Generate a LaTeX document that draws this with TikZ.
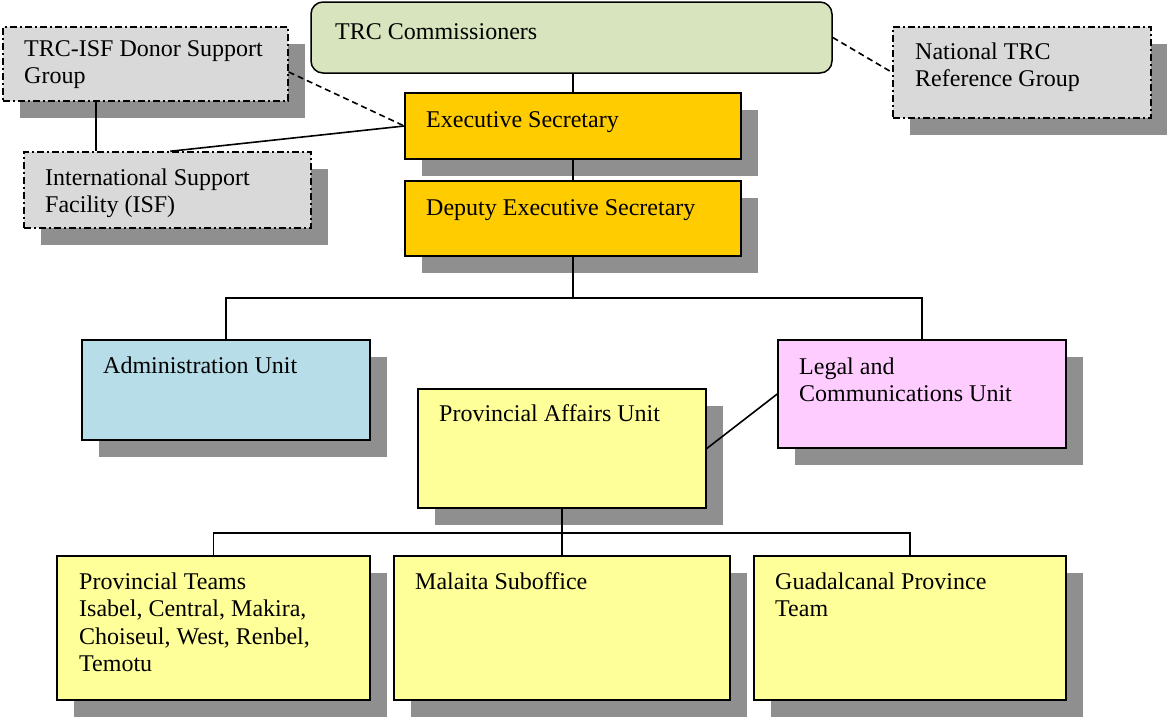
\documentclass[tikz,border=0pt]{standalone}
\usepackage{fontspec}
\setmainfont{Liberation Serif}
\usetikzlibrary{fit,calc}
\definecolor{cgreen}{HTML}{D7E4BD}
\definecolor{corange}{HTML}{FFCC00}
\definecolor{cgrey}{HTML}{D9D9D9}
\definecolor{cblue}{HTML}{B7DDE8}
\definecolor{cpink}{HTML}{FFCCFF}
\definecolor{cyellow}{HTML}{FFFF99}
\definecolor{cshadow}{HTML}{8F8F8F}
\tikzset{
  boxline/.style={draw=black, line width=1.5pt},
  dashdot/.style={dash pattern=on 7pt off 3pt on 2pt off 3pt},
  conn/.style={draw=black, line width=1.6pt},
  dconn/.style={conn, dash pattern=on 6pt off 4pt},
  txt/.style={anchor=base west, inner sep=0pt, align=left, font=\fontsize{24}{27.6}\selectfont},
  shadowfill/.style={fill=cshadow}
}
\newcommand\mybox[5]{%
  \coordinate (#1-nw) at #2;
  \coordinate (#1-se) at #3;
  \ifx#5s\fill[shadowfill] ([shift={(17,17)}]#1-nw) rectangle ([shift={(17,17)}]#1-se);\fi
  \node[fit=(#1-nw)(#1-se), inner sep=0pt, boxline, #4] (#1) {};
}
\begin{document}
\begin{tikzpicture}[x=1pt,y=-1pt]
\useasboundingbox (0,0) rectangle (1167,716);
% boxes
\mybox{donor}{(3,27)}{(288,101)}{fill=cgrey, dashdot}{s}
\mybox{isf}{(24,152)}{(311,228)}{fill=cgrey, dashdot}{s}
\node[fit={(311,2) (832,73)}, inner sep=0pt, boxline, fill=cgreen, rounded corners=12pt] (comm) {};
\mybox{natl}{(893,27)}{(1151,118)}{fill=cgrey, dashdot}{s}
\mybox{exec}{(405,93)}{(741,159)}{fill=corange}{s}
\mybox{dep}{(405,181)}{(741,256)}{fill=corange}{s}
\mybox{admin}{(82,340)}{(370,440)}{fill=cblue}{s}
\mybox{legal}{(778,340)}{(1066,448)}{fill=cpink}{s}
\mybox{paff}{(418,389)}{(706,508)}{fill=cyellow}{s}
\mybox{pteam}{(57,556)}{(370,700)}{fill=cyellow}{s}
\mybox{mal}{(394,556)}{(730,700)}{fill=cyellow}{s}
\mybox{guad}{(754,556)}{(1066,700)}{fill=cyellow}{s}
% texts (anchor = baseline of the last line)
\node[txt] (donor-t) at (24,83.6) {TRC-ISF Donor Support\\Group};
\node[txt] (isf-t) at (45,212.6) {International Support\\Facility (ISF)};
\node[txt] (comm-t) at (335,39) {TRC Commissioners};
\node[txt] (natl-t) at (915,86.6) {National TRC\\Reference Group};
\node[txt] (exec-t) at (426,127) {Executive Secretary};
\node[txt] (dep-t) at (426,215) {Deputy Executive Secretary};
\node[txt] (admin-t) at (103,373) {Administration Unit};
\node[txt] (legal-t) at (799,401.6) {Legal and\\Communications Unit};
\node[txt] (paff-t) at (439,421) {Provincial Affairs Unit};
\node[txt] (pteam-t) at (79,671.8) {Provincial Teams\\Isabel, Central, Makira,\\Choiseul, West, Renbel,\\Temotu};
\node[txt] (mal-t) at (415,589) {Malaita Suboffice};
\node[txt] (guad-t) at (775,616.6) {Guadalcanal Province\\Team};
% connectors
\draw[conn] (exec.north) -- (exec.north |- comm.south);
\draw[conn] (exec.south) -- (dep.north);
\coordinate (bus1) at ($(dep.south)+(0,41)$);
\draw[conn] (dep.south) -- (bus1);
\draw[conn] (admin.north) |- (bus1) -| (legal.north);
\draw[conn] ([xshift=94pt]donor.south west) -- ([xshift=73pt]isf.north west);
\draw[conn] (exec.west) -- ([xshift=147pt]isf.north west);
\draw[dconn] ([yshift=-8pt]donor.east) -- (exec.west);
\draw[dconn] (comm.east) -- (natl.west);
\draw[conn] (legal.west) -- (paff.east);
\coordinate (bus2) at ($(paff.south)+(0,24)$);
\draw[conn] (paff.south) -- (mal.north);
\draw[conn] (pteam.north) |- (bus2) -| (guad.north);
\end{tikzpicture}
\end{document}
